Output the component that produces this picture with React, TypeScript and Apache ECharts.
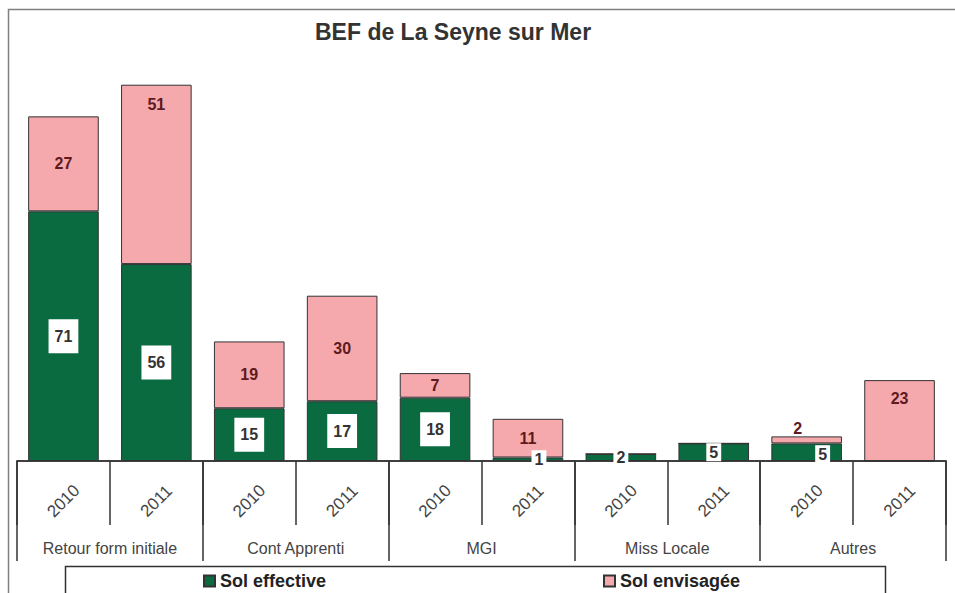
import React, { useEffect, useRef } from "react";
import * as echarts from "echarts";

const groups = ["Retour form initiale", "Cont Apprenti", "MGI", "Miss Locale", "Autres"];
const years = ["2010", "2011"];
const solEffective = [71, 56, 15, 17, 18, 1, 2, 5, 5, 0];
const solEnvisagee = [27, 51, 19, 30, 7, 11, 0, 0, 2, 23];

const FONT = "'Liberation Sans', Arial, Helvetica, sans-serif";
const GREEN = "#0b6b40";
const PINK = "#f5a9ad";

export default function App() {
  const ref = useRef<HTMLDivElement>(null);
  useEffect(() => {
    document.body.style.margin = "0";
    const chart = echarts.init(ref.current!, null, { renderer: "svg" });
    const cats: string[] = [];
    groups.forEach(() => years.forEach((y) => cats.push(y)));

    const effOffsets: Record<number, number[]> = { 5: [11, 0], 8: [16, 2] };
    const envPos: Record<number, any> = {
      1: { position: "insideTop", distance: 12 },
      9: { position: "insideTop", distance: 10 },
      8: { position: "top", distance: 0, offset: [-9, 0] },
    };

    const effData = solEffective.map((v, i) => ({
      value: v,
      label: v > 0
        ? { show: true, offset: effOffsets[i] || [0, 0], padding: v < 6 ? [1, 3] : [9, 6] }
        : { show: false },
    }));
    const envData = solEnvisagee.map((v, i) => ({
      value: v,
      label: v > 0 ? { show: true, ...(envPos[i] || {}) } : { show: false },
    }));

    const legendText = { fontFamily: FONT, fontSize: 18, fontWeight: "bold", color: "#222" };

    chart.setOption({
      animation: false,
      textStyle: { fontFamily: FONT },
      title: {
        text: "BEF de La Seyne sur Mer",
        left: 310,
        top: 15,
        textStyle: { fontFamily: FONT, fontSize: 23, fontWeight: "bold", color: "#333" },
      },
      graphic: [
        {
          type: "rect",
          shape: { x: 8.5, y: 9.5, width: 980, height: 620 },
          style: { fill: "none", stroke: "#808080", lineWidth: 1.5 },
          silent: true,
        },
        {
          type: "rect",
          shape: { x: 65.5, y: 566.5, width: 820, height: 60 },
          style: { fill: "#fff", stroke: "#333", lineWidth: 1.5 },
          silent: true,
          z: -1,
        },
      ],
      legend: [
        {
          data: ["Sol effective"],
          left: 198,
          top: 567,
          icon: "rect",
          itemWidth: 11,
          itemHeight: 11,
          textStyle: legendText,
        },
        {
          data: ["Sol envisagée"],
          left: 598,
          top: 567,
          icon: "rect",
          itemWidth: 11,
          itemHeight: 11,
          textStyle: legendText,
        },
      ],
      grid: { left: 17, right: 9, top: 39, bottom: 132, containLabel: false },
      xAxis: [
        {
          type: "category",
          data: cats,
          position: "bottom",
          axisLine: { lineStyle: { color: "#333", width: 1.5 } },
          axisTick: { show: true, length: 64, lineStyle: { color: "#333", width: 1.5 } },
          axisLabel: {
            rotate: 45,
            align: "center",
            verticalAlign: "middle",
            margin: 40,
            fontSize: 17,
            color: "#444",
            fontFamily: FONT,
          },
        },
        {
          type: "category",
          data: groups,
          position: "bottom",
          axisLine: { lineStyle: { color: "#333", width: 1.5 } },
          axisTick: { show: true, length: 100, lineStyle: { color: "#333", width: 1.5 } },
          axisLabel: {
            verticalAlign: "middle",
            margin: 87,
            fontSize: 16,
            color: "#444",
            fontFamily: FONT,
          },
        },
      ],
      yAxis: {
        type: "value",
        min: 0,
        max: 120,
        show: false,
        splitLine: { show: false },
      },
      series: [
        {
          name: "Sol effective",
          type: "bar",
          stack: "total",
          xAxisIndex: 0,
          barCategoryGap: "24%",
          data: effData,
          itemStyle: { color: GREEN, borderColor: "#333", borderWidth: 1 },
          label: {
            show: true,
            position: "inside",
            backgroundColor: "#fff",
            color: "#333",
            fontWeight: "bold",
            fontSize: 16,
            fontFamily: FONT,
          },
        },
        {
          name: "Sol envisagée",
          type: "bar",
          stack: "total",
          xAxisIndex: 0,
          barCategoryGap: "24%",
          data: envData,
          itemStyle: { color: PINK, borderColor: "#333", borderWidth: 1 },
          label: {
            show: true,
            position: "inside",
            color: "#5e1a1e",
            fontWeight: "bold",
            fontSize: 16,
            fontFamily: FONT,
          },
        },
      ],
    });
    return () => chart.dispose();
  }, []);
  return <div ref={ref} style={{ width: 955, height: 593 }} />;
}
